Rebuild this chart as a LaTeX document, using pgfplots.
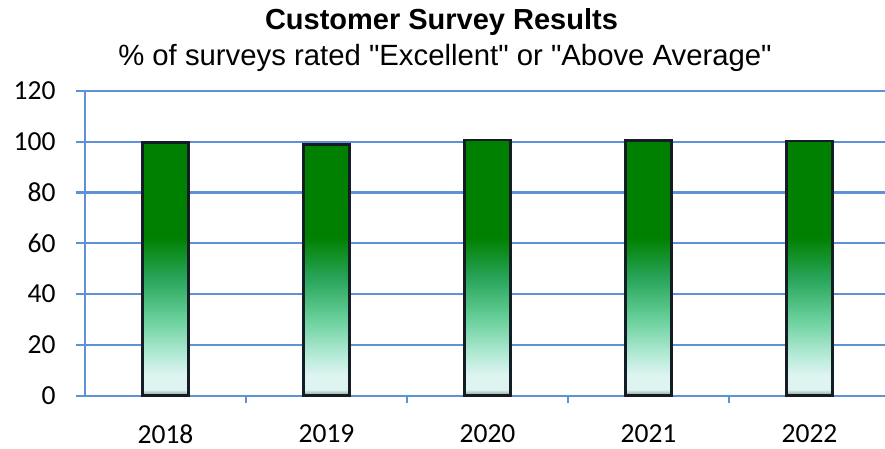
\documentclass[border=0pt]{standalone}
\usepackage{pgfplots}
\pgfplotsset{compat=1.18}
\usepackage{fontspec}
\setmainfont{Liberation Sans}[Ligatures=TeXOff]
\newfontfamily\calibri{Carlito}
\definecolor{gridblue}{RGB}{95,145,215}
\definecolor{bgrey}{RGB}{140,150,150}
\definecolor{bwhite}{RGB}{222,244,240}
\definecolor{bpale}{RGB}{180,234,214}
\definecolor{bmint}{RGB}{105,208,155}
\definecolor{bmid}{RGB}{40,165,90}
\definecolor{bgreen}{RGB}{0,128,0}
\definecolor{bborder}{RGB}{20,28,38}
\pgfdeclareverticalshading{barshade}{100bp}{color(0bp)=(bgrey); color(25bp)=(bgrey); color(26.2bp)=(bwhite); color(29bp)=(bwhite); color(33bp)=(bpale); color(40bp)=(bmint); color(48bp)=(bmid); color(56bp)=(bgreen); color(75bp)=(bgreen); color(100bp)=(bgreen)}
\begin{document}
\begin{tikzpicture}
\useasboundingbox (-85pt,-53.3pt) rectangle (800pt,395.7pt);
\begin{axis}[
  at={(0pt,0pt)}, anchor=south west,
  scale only axis, width=800pt, height=304.7pt,
  xmin=-0.5, xmax=4.469, ymin=0, ymax=120,
  xtick={0,1,2,3,4},
  xticklabels={2018,2019,2020,2021,2022},
  minor xtick={0.5,1.5,2.5,3.5},
  ytick={0,20,40,60,80,100,120},
  yticklabels={0,20,40,60,80,100,120},
  ymajorgrids,
  grid style={gridblue, line width=2.2pt},
  axis lines*=left,
  axis line style={gridblue, line width=2.2pt},
  tick align=outside,
  major tick length=9pt, minor tick length=7pt,
  tick style={gridblue, line width=2.2pt},
  major x tick style={draw=none},
  ticklabel style={font=\calibri\fontsize{27.5}{27.5}\selectfont, text=black},
  xticklabel style={yshift=-16pt},
  yticklabel style={xshift=-17pt},
  clip=false,
]
\addplot[ybar, bar width=46pt, draw=bborder, line width=2.5pt, shade, shading=barshade]
  coordinates {(0,99.8) (1,99.0) (2,100.7) (3,100.6) (4,100.3)};
\end{axis}
\node[anchor=base, font=\bfseries\fontsize{29}{29}\selectfont] at (356.5pt,366.2pt) {Customer Survey Results};
\node[anchor=base, font=\fontsize{29.3}{29.3}\selectfont] at (360pt,330pt) {\% of surveys rated "Excellent" or "Above Average"};
\end{tikzpicture}
\end{document}
